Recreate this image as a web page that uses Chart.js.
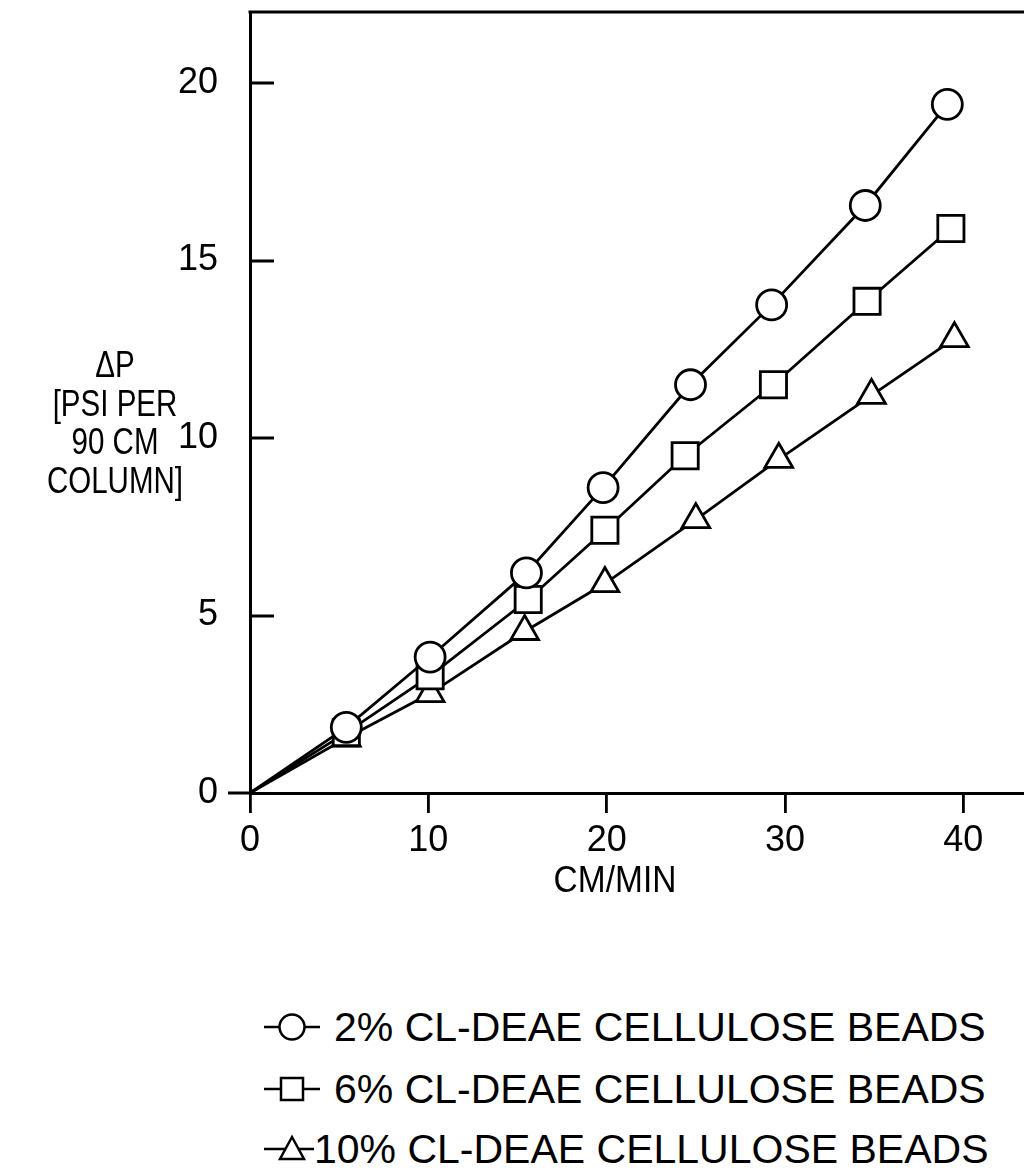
<!DOCTYPE html>
<html>
<head>
<meta charset="utf-8">
<script src="https://cdn.jsdelivr.net/npm/chart.js@4.4.1/dist/chart.umd.min.js"></script>
<style>
    html, body { margin: 0; padding: 0; background: #fff; overflow: hidden; }
    body { width: 1024px; height: 1170px; position: relative; font-family: 'Liberation Sans', Arial, sans-serif; color: #000; }
    #wrap { position: absolute; left: 0; top: 0; width: 1024px; height: 960px; }
    #yTitle { position: absolute; left: 15px; top: 346px; width: 200px; text-align: center; font-size: 36px; line-height: 38.5px; transform: scaleX(0.82); transform-origin: 100px 0; }
    #xTitle { position: absolute; left: 515px; top: 860px; width: 200px; text-align: center; font-size: 36px; line-height: 40px; transform: scaleX(0.93); transform-origin: 100px 0; }
    #legend { position: absolute; left: 262px; top: 998px; font-size: 41px; }
    .row { position: absolute; left: 0; height: 58px; white-space: nowrap; display: flex; align-items: center; }
    .row svg { flex: none; }
</style>
</head>
<body>
<div id="wrap"><canvas id="chart"></canvas></div>
<div id="yTitle">ΔP<br>[PSI PER<br>90 CM<br>COLUMN]</div>
<div id="xTitle">CM/MIN</div>
<div id="legend"></div>
<script>
const seriesLabels = ['2% CL-DEAE CELLULOSE BEADS', '6% CL-DEAE CELLULOSE BEADS', '10% CL-DEAE CELLULOSE BEADS'];
const seriesShapes = ['circle', 'rect', 'triangle'];

const circleX = [0, 5.4, 10.1, 15.5, 19.8, 24.7, 29.25, 34.5, 39.1];
const circleY = [0, 1.85, 3.83, 6.2, 8.6, 11.5, 13.75, 16.55, 19.4];
const squareX = [0, 5.4, 10.1, 15.6, 19.9, 24.4, 29.35, 34.6, 39.3];
const squareY = [0, 1.7, 3.3, 5.45, 7.4, 9.5, 11.5, 13.85, 15.9];
const triangleX = [0, 5.4, 10.1, 15.4, 19.9, 25.0, 29.65, 34.85, 39.5];
const triangleY = [0, 1.55, 2.8, 4.55, 5.9, 7.7, 9.4, 11.2, 12.8];

const xTicks = [0, 10, 20, 30, 40];
const yTicks = [0, 5, 10, 15, 20];

const FONT = "'Liberation Sans', Arial, sans-serif";

function toPoints(xs, ys) {
    return xs.map((x, i) => ({ x: x, y: ys[i] }));
}

function radii(xs, r) {
    return xs.map((x, i) => (i === 0 ? 0 : r));
}

const allX = [circleX, squareX, triangleX];
const allY = [circleY, squareY, triangleY];
const markerSize = [15, 18.5, 16];

const datasets = seriesLabels.map((label, i) => ({
    label: label,
    data: toPoints(allX[i], allY[i]),
    borderColor: '#000',
    borderWidth: 2.8,
    backgroundColor: '#fff',
    pointStyle: seriesShapes[i],
    pointRadius: radii(allX[i], markerSize[i]),
    pointBorderWidth: 2.8,
    pointBackgroundColor: '#fff',
    pointBorderColor: '#000',
    pointHoverRadius: radii(allX[i], markerSize[i]),
    tension: 0
}));

// top edge of the frame, x axis stub left of the origin, y ticks pointing inward
const frameLines = {
    id: 'frameLines',
    afterDraw(chart) {
        const { ctx, chartArea } = chart;
        const yScale = chart.scales.y;
        ctx.save();
        ctx.strokeStyle = '#000';
        ctx.lineWidth = 3;
        ctx.beginPath();
        ctx.moveTo(chartArea.left - 1.5, chartArea.top);
        ctx.lineTo(chartArea.right + 30, chartArea.top);
        ctx.moveTo(chartArea.left - 22, chartArea.bottom);
        ctx.lineTo(chartArea.left, chartArea.bottom);
        ctx.stroke();
        ctx.lineWidth = 2.8;
        ctx.beginPath();
        yTicks.forEach(v => {
            if (v === 0) return;
            const py = Math.round(yScale.getPixelForValue(v));
            ctx.moveTo(chartArea.left, py);
            ctx.lineTo(chartArea.left + 24, py);
        });
        ctx.stroke();
        ctx.restore();
    }
};

new Chart(document.getElementById('chart'), {
    type: 'line',
    data: { datasets: datasets },
    plugins: [frameLines],
    options: {
        responsive: true,
        maintainAspectRatio: false,
        animation: false,
        layout: { autoPadding: false, padding: { top: 12, right: 0, left: 0, bottom: 41 } },
        plugins: { legend: { display: false }, tooltip: { enabled: false } },
        scales: {
            x: {
                type: 'linear',
                min: 0,
                max: 43.4,
                afterFit(scale) { scale.height = 126; },
                afterBuildTicks(scale) { scale.ticks = xTicks.map(v => ({ value: v })); },
                grid: { drawOnChartArea: false, drawTicks: true, tickLength: 20, color: '#000', lineWidth: 2.8 },
                border: { display: true, color: '#000', width: 3 },
                ticks: { color: '#000', padding: 6, font: { family: FONT, size: 36 } },
                title: { display: false }
            },
            y: {
                type: 'linear',
                min: 0,
                max: 22.0,
                afterFit(scale) { scale.width = 250; },
                afterBuildTicks(scale) { scale.ticks = yTicks.map(v => ({ value: v })); },
                // invisible outward ticks only space the labels; visible ticks are drawn inward by the plugin
                grid: { drawOnChartArea: false, drawTicks: true, tickLength: 32, color: 'rgba(0,0,0,0)', lineWidth: 0 },
                border: { display: true, color: '#000', width: 3 },
                ticks: { color: '#000', padding: 0, font: { family: FONT, size: 36, lineHeight: 0.1 } }
            }
        }
    }
});

// legend rows: line with marker, then label
const legend = document.getElementById('legend');
const rowTops = [0, 62, 122];
const textLeft = [72, 72, 52];
seriesLabels.forEach((label, i) => {
    const row = document.createElement('div');
    row.className = 'row';
    row.style.top = rowTops[i] + 'px';
    let shape = '';
    if (seriesShapes[i] === 'circle') {
        shape = '<circle cx="30" cy="29" r="12.5" fill="#fff" stroke="#000" stroke-width="2.5"/>';
    } else if (seriesShapes[i] === 'rect') {
        shape = '<rect x="19" y="18" width="22" height="22" fill="#fff" stroke="#000" stroke-width="2.5"/>';
    } else {
        shape = '<polygon points="30,17 42,39 18,39" fill="#fff" stroke="#000" stroke-width="2.5"/>';
    }
    const w = textLeft[i];
    const lineEnd = i === 2 ? 62 : 58;
    row.innerHTML = '<svg width="' + w + '" height="58"><line x1="2" y1="29" x2="' + lineEnd + '" y2="29" stroke="#000" stroke-width="2.5"/>' + shape + '</svg><span>' + label + '</span>';
    legend.appendChild(row);
});
</script>
</body>
</html>
